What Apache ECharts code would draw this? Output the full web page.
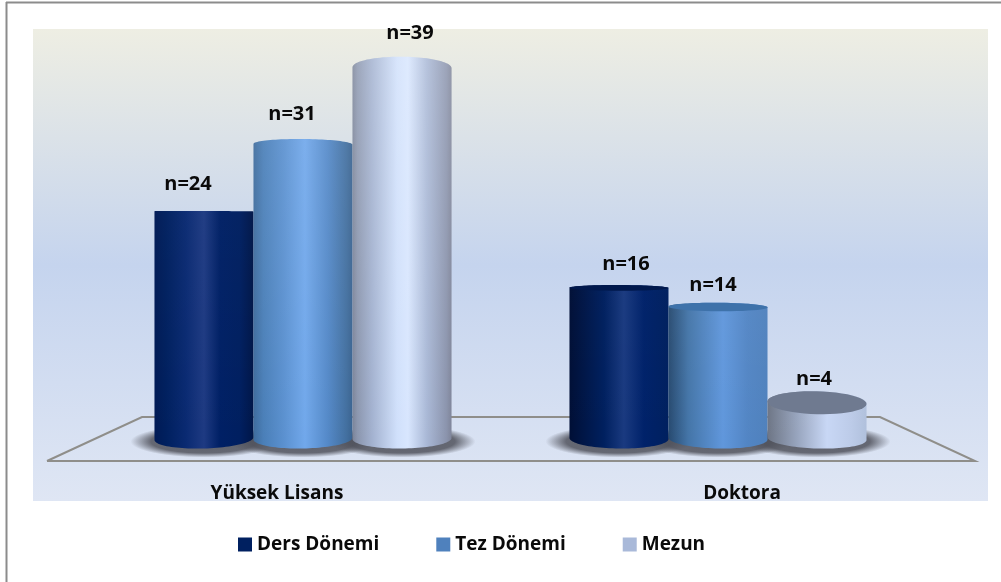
<!DOCTYPE html>
<html>
<head>
<meta charset="utf-8">
<style>
  html, body { margin: 0; padding: 0; background: #fff; }
  #chart { width: 1001px; height: 582px; }
</style>
<script src="https://cdn.jsdelivr.net/npm/echarts@6/dist/echarts.min.js"></script>
</head>
<body>
<div id="chart"></div>
<script>
var categories = ['Yüksek Lisans', 'Doktora']
var seriesNames = ['Ders Dönemi', 'Tez Dönemi', 'Mezun']
var dersDonemi = [24, 16]
var tezDonemi = [31, 14]
var mezun = [39, 4]
var seriesValues = [dersDonemi, tezDonemi, mezun]

var legendColors = ['#002060', '#4f81bd', '#a9b9d9']
var faceColors = ['#00184c', '#3e72aa', '#6f7a90']
var sheen = [0.03, 0.1, 0.16]
// horizontal shading of the cylinders, one per category then series
var shades = [
  [
    [[0, '#001a55'], [0.12, '#00205f'], [0.32, '#0a2a72'], [0.5, '#1e3a82'], [0.66, '#002065'], [0.86, '#001f60'], [1, '#001648']],
    [[0, '#3e6b9c'], [0.1, '#4a7fb8'], [0.3, '#5a90cf'], [0.52, '#71a8eb'], [0.75, '#5489c8'], [0.94, '#426f9f'], [1, '#3a6390']],
    [[0, '#7a8398'], [0.05, '#8b96ae'], [0.2, '#a3b2d0'], [0.45, '#d0e0fb'], [0.56, '#d8e6fe'], [0.75, '#a9b8d6'], [0.95, '#8a93ac'], [1, '#7e8499']]
  ],
  [
    [[0, '#000f36'], [0.35, '#00205f'], [0.55, '#1a3a80'], [0.75, '#00226a'], [1, '#00205f']],
    [[0, '#274a70'], [0.2, '#4475a8'], [0.55, '#6097dc'], [0.8, '#5285c4'], [1, '#4f81bd']],
    [[0, '#6d7585'], [0.3, '#98a5be'], [0.6, '#c8d7f5'], [0.85, '#bccbe8'], [1, '#b0c0dc']]
  ]
]
// label offset from the cylinder top, the original labels sit off-centre
var labelNudge = [
  [[-16, -27], [-11, -30], [8, -34]],
  [[7, -24], [-5, -22], [-3, -23]]
]

var font = 'Open Sans'
var barRatio = 0.2386
var floorY = 461

// how round a cylinder end looks at a given height on the page
function endRadius(y) {
  if (y < 215) return 0.075 * (215 - y)
  if (y > 250) return 0.075 * (y - 250)
  return 0
}
function tiltAt(x, y) {
  return (x - 510) * (y - 232) * 4.5e-7
}
function arc(cx, cy, rx, ry, tilt, from, to) {
  var pts = []
  for (var i = 0; i <= 48; i++) {
    var a = from + (to - from) * i / 48
    var px = rx * Math.cos(a)
    pts.push([cx + px, cy + ry * Math.sin(a) + tilt * px])
  }
  return pts
}

function barGeometry(api, cat, val, s) {
  var top = api.coord([cat, val])
  var zero = api.coord([cat, 0])
  var w = api.size([1, 0])[0] * barRatio
  return {
    cx: top[0] + (s - 1) * w,
    top: top[1],
    base: zero[1] - 2.5,
    rx: w / 2
  }
}

function renderCylinder(s) {
  return function (params, api) {
    var cat = api.value(0)
    var val = api.value(1)
    var g = barGeometry(api, cat, val, s)
    var topRy = endRadius(g.top)
    var topTilt = tiltAt(g.cx, g.top)
    var baseTilt = tiltAt(g.cx, g.base)
    // top edge left to right, then bottom edge right to left
    var outline = arc(g.cx, g.top, g.rx, topRy, topTilt, Math.PI, 2 * Math.PI)
      .concat(arc(g.cx, g.base, g.rx, 10, baseTilt, 0, Math.PI))
    var children = [
      {
        type: 'polygon',
        shape: { points: outline },
        style: { fill: new echarts.graphic.LinearGradient(0, 0, 1, 0, shades[cat][s].map(function (c) {
          return { offset: c[0], color: c[1] }
        })) }
      },
      {
        type: 'polygon',
        shape: { points: outline },
        style: { fill: new echarts.graphic.LinearGradient(0, 0, 0, 1, [
          { offset: 0, color: 'rgba(255,255,255,' + (sheen[s] * (g.base - g.top) / 370) + ')' },
          { offset: 1, color: 'rgba(255,255,255,0)' }
        ]) }
      }
    ]
    if (g.top > 250) {
      children.push({
        type: 'polygon',
        shape: { points: arc(g.cx, g.top, g.rx, topRy, topTilt, 0, 2 * Math.PI) },
        style: { fill: faceColors[s] }
      })
    }
    children.push({
      type: 'text',
      style: {
        x: g.cx + labelNudge[cat][s][0],
        y: g.top + labelNudge[cat][s][1],
        text: 'n=' + val,
        fill: '#0a0a0a',
        font: 'bold 20px "' + font + '"',
        align: 'center',
        verticalAlign: 'middle'
      }
    })
    return { type: 'group', children: children }
  }
}

function renderShadow(params, api) {
  var g = barGeometry(api, api.value(0), 0, api.value(1))
  return {
    type: 'circle',
    x: g.cx,
    y: g.base + 3,
    scaleX: (g.rx + 24) / 100,
    scaleY: 0.16,
    shape: { cx: 0, cy: 0, r: 100 },
    style: { fill: new echarts.graphic.RadialGradient(0.5, 0.5, 0.5, [
      { offset: 0, color: 'rgba(80,82,92,0.9)' },
      { offset: 0.72, color: 'rgba(80,82,92,0.85)' },
      { offset: 1, color: 'rgba(80,82,92,0)' }
    ]) }
  }
}

var shadowData = []
categories.forEach(function (c, i) {
  seriesNames.forEach(function (n, s) {
    shadowData.push([i, s])
  })
})

var chart = echarts.init(document.getElementById('chart'), null, { renderer: 'canvas' })
chart.setOption({
  animation: false,
  backgroundColor: '#ffffff',
  grid: { left: 95.5, width: 830, top: 39, bottom: 141 },
  legend: {
    left: 238,
    top: 535,
    padding: 0,
    icon: 'rect',
    itemWidth: 14,
    itemHeight: 14,
    itemGap: 57,
    data: seriesNames,
    textStyle: { fontFamily: font, fontWeight: 'bold', fontSize: 19, color: '#0a0a0a' },
    selectedMode: false
  },
  xAxis: {
    type: 'category',
    data: [
      { value: categories[0], textStyle: { padding: [0, 52, 0, 0] } },
      { value: categories[1], textStyle: { padding: [0, 0, 0, 48] } }
    ],
    axisLine: { show: false },
    axisTick: { show: false },
    axisLabel: { margin: 43, fontFamily: font, fontWeight: 'bold', fontSize: 19, color: '#0a0a0a' }
  },
  yAxis: { type: 'value', min: 0, max: 42, show: false },
  graphic: [
    {
      type: 'rect', z: -10,
      shape: { x: 33, y: 29, width: 955, height: 472 },
      style: { fill: new echarts.graphic.LinearGradient(0, 0, 0, 1, [
        { offset: 0, color: '#eeeee3' },
        { offset: 0.5, color: '#c5d4ee' },
        { offset: 1, color: '#dfe6f4' }
      ]) }
    },
    {
      type: 'polyline', z: -9,
      shape: { points: [[47, floorY], [142, 417], [880, 417], [975, floorY], [47, floorY]] },
      style: { stroke: '#8f8e8a', lineWidth: 2, fill: null }
    },
    { type: 'line', z: -9, shape: { x1: 6.5, y1: 2, x2: 6.5, y2: 582 }, style: { stroke: '#8c8c8c', lineWidth: 2 } },
    { type: 'line', z: -9, shape: { x1: 6, y1: 2.5, x2: 1001, y2: 2.5 }, style: { stroke: '#8c8c8c', lineWidth: 2 } }
  ],
  series: [
    { type: 'custom', z: 1, silent: true, renderItem: renderShadow, data: shadowData, clip: false }
  ].concat(seriesNames.map(function (name, s) {
    return {
      type: 'custom',
      name: name,
      z: 3,
      itemStyle: { color: legendColors[s] },
      renderItem: renderCylinder(s),
      data: seriesValues[s].map(function (v, i) { return [i, v] }),
      clip: false
    }
  }))
})
</script>
</body>
</html>
